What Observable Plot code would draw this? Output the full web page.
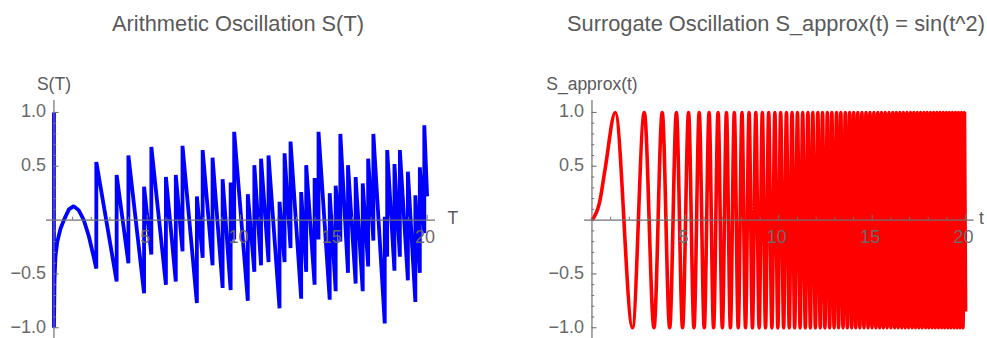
<!DOCTYPE html>
<html>
<head>
<meta charset="utf-8">
<script src="https://cdn.jsdelivr.net/npm/d3@7"></script>
<script src="https://cdn.jsdelivr.net/npm/@observablehq/plot@0.6"></script>
<style>
html, body { margin: 0; padding: 0; background: #fff; overflow: hidden; }
#wrap { position: relative; width: 987px; height: 338px; font-family: "Liberation Sans", Arial, sans-serif; }
.panel { position: absolute; top: 0; width: 493px; height: 338px; }
.title { position: absolute; top: 13px; font-size: 21.8px; line-height: 22px; color: #595959; text-align: center; white-space: nowrap; }
</style>
</head>
<body>
<div id="wrap">
  <div class="panel" id="left" style="left:0px"></div>
  <div class="panel" id="right" style="left:494px"></div>
  <div class="title" id="titleLeft" style="left:0px;width:476px"></div>
  <div class="title" id="titleRight" style="left:556px;width:440px"></div>
</div>
<script>
// ---------- text ----------
const titleLeft = "Arithmetic Oscillation S(T)";
const titleRight = "Surrogate Oscillation S_approx(t) = sin(t^2)";
const yLabelLeft = "S(T)";
const yLabelRight = "S_approx(t)";
const xLabelLeft = "T";
const xLabelRight = "t";

// ---------- ticks ----------
const xMajor = [5, 10, 15, 20];
const xMajorLabels = ["5", "10", "15", "20"];
const xMinor = [1, 2, 3, 4, 6, 7, 8, 9, 11, 12, 13, 14, 16, 17, 18, 19];
const yMajor = [-1, -0.5, 0.5, 1];
const yMajorLabels = ["\u22121.0", "\u22120.5", "0.5", "1.0"];
const yMinor = [-0.9, -0.8, -0.7, -0.6, -0.4, -0.3, -0.2, -0.1, 0.1, 0.2, 0.3, 0.4, 0.6, 0.7, 0.8, 0.9];

// ---------- left series S(T) ----------
// smooth opening part
const startT = [0, 0, 0.03, 0.08, 0.18, 0.35, 0.53, 0.8, 1.06, 1.33, 1.6, 1.87, 2.1];
const startS = [1.0, -1.0, -0.55, -0.34, -0.2, -0.08, 0.0, 0.1, 0.13, 0.09, 0.0, -0.15, -0.32];
// jump positions: value just before the jump and just after it
const jumpT = [2.27, 3.36, 3.99, 4.83, 5.22, 6.00, 6.53, 6.89, 7.66, 7.97, 8.50, 9.04, 9.47, 9.66,
  10.39, 10.74, 11.10, 11.50, 12.09, 12.36, 12.68, 13.25, 13.52, 13.97, 14.18, 14.78, 15.10, 15.35,
  15.76, 16.17, 16.55, 16.84, 17.12, 17.73, 17.86, 18.25, 18.54, 18.97, 19.37, 19.61, 19.85];
const jumpLow = [-0.45, -0.57, -0.40, -0.68, -0.32, -0.60, -0.57, -0.29, -0.77, -0.35, -0.42, -0.63, -0.65, -0.18,
  -0.75, -0.48, -0.42, -0.39, -0.82, -0.39, -0.26, -0.73, -0.48, -0.60, -0.18, -0.74, -0.66, -0.20,
  -0.49, -0.59, -0.66, -0.43, -0.19, -0.96, -0.34, -0.47, -0.34, -0.56, -0.76, -0.49, -0.12];
const jumpHigh = [0.54, 0.42, 0.60, 0.31, 0.68, 0.40, 0.42, 0.69, 0.22, 0.65, 0.58, 0.38, 0.35, 0.82,
  0.24, 0.51, 0.57, 0.60, 0.17, 0.62, 0.73, 0.26, 0.51, 0.39, 0.82, 0.25, 0.32, 0.80,
  0.51, 0.40, 0.34, 0.57, 0.80, 0.03, 0.65, 0.52, 0.65, 0.45, 0.23, 0.49, 0.88];
const endT = [20.0];
const endS = [0.22];

// ---------- right series S_approx(t): points and turning points ----------
const tApprox = [0, 0.4, 0.7, 1.25, 2.17, 2.80, 3.32, 3.76, 4.16, 4.52, 4.85, 5.17, 5.46, 5.74, 6.01, 6.27, 6.51, 6.75,
  6.98, 7.20, 7.41, 7.62, 7.83, 8.03, 8.22, 8.41, 8.59, 8.77, 8.95, 9.12, 9.29, 9.46, 9.63, 9.79,
  9.95, 10.10, 10.26, 10.41, 10.56, 10.71, 10.85, 11.00, 11.14, 11.28, 11.42, 11.56, 11.69, 11.82, 11.96, 12.09,
  12.22, 12.34, 12.47, 12.60, 12.72, 12.84, 12.96, 13.09, 13.20, 13.32, 13.44, 13.56, 13.67, 13.79, 13.90, 14.01,
  14.12, 14.23, 14.34, 14.45, 14.56, 14.67, 14.78, 14.88, 14.99, 15.09, 15.20, 15.30, 15.40, 15.50, 15.60, 15.70,
  15.80, 15.90, 16.00, 16.10, 16.20, 16.29, 16.39, 16.48, 16.58, 16.67, 16.77, 16.86, 16.95, 17.05, 17.14, 17.23,
  17.32, 17.41, 17.50, 17.59, 17.68, 17.77, 17.86, 17.94, 18.03, 18.12, 18.21, 18.29, 18.38, 18.46, 18.55, 18.63,
  18.72, 18.80, 18.88, 18.97, 19.05, 19.13, 19.21, 19.29, 19.38, 19.46, 19.54, 19.62, 19.70, 19.78, 19.86, 19.94,
  20.00];
const sApprox = [0, 0.16, 0.47, 1, -1, 1, -1, 1, -1, 1, -1, 1, -1, 1, -1, 1, -1, 1,
  -1, 1, -1, 1, -1, 1, -1, 1, -1, 1, -1, 1, -1, 1, -1, 1,
  -1, 1, -1, 1, -1, 1, -1, 1, -1, 1, -1, 1, -1, 1, -1, 1,
  -1, 1, -1, 1, -1, 1, -1, 1, -1, 1, -1, 1, -1, 1, -1, 1,
  -1, 1, -1, 1, -1, 1, -1, 1, -1, 1, -1, 1, -1, 1, -1, 1,
  -1, 1, -1, 1, -1, 1, -1, 1, -1, 1, -1, 1, -1, 1, -1, 1,
  -1, 1, -1, 1, -1, 1, -1, 1, -1, 1, -1, 1, -1, 1, -1, 1,
  -1, 1, -1, 1, -1, 1, -1, 1, -1, 1, -1, 1, -1, 1, -1, 1,
  -0.85];

// ---------- build tables ----------
const leftData = [];
startT.forEach((t, i) => leftData.push({t, s: startS[i]}));
jumpT.forEach((t, i) => { leftData.push({t, s: jumpLow[i]}); leftData.push({t, s: jumpHigh[i]}); });
endT.forEach((t, i) => leftData.push({t, s: endS[i]}));
const rightData = tApprox.map((t, i) => ({t, s: sApprox[i]}));

const xDomain = [-0.4, 20.45];
const yDomain = [-1.1, 1.111];
const axisColor = "#707070";
const labelColor = "#6a6a6a";
const font = "'Liberation Sans', Arial, sans-serif";

function panel({data, color, strokeWidth, curve, yLabel, xLabel, xLabelDx, marginLeft, marginRight}) {
  const xMajT = xMajor.map((v, i) => ({v, label: xMajorLabels[i]}));
  const yMajT = yMajor.map((v, i) => ({v, label: yMajorLabels[i]}));
  return Plot.plot({
    width: 493,
    height: 338,
    marginTop: 100,
    marginBottom: 0,
    marginLeft,
    marginRight,
    x: {domain: xDomain, axis: null},
    y: {domain: yDomain, axis: null},
    style: {fontFamily: font, background: "transparent", overflow: "visible"},
    marks: [
      Plot.line(data, {x: "t", y: "s", stroke: color, strokeWidth, curve,
        strokeLinejoin: "miter", strokeLinecap: "butt"}),
      Plot.ruleY([0], {stroke: axisColor, strokeWidth: 1.2}),
      Plot.ruleX([0], {stroke: axisColor, strokeWidth: 1.2}),
      Plot.ruleX(xMajor, {x: d => d, y1: () => 0, y2: () => 0.046, stroke: axisColor, strokeWidth: 1.1}),
      Plot.ruleX(xMinor, {x: d => d, y1: () => 0, y2: () => 0.026, stroke: axisColor, strokeWidth: 1}),
      Plot.ruleY(yMajor, {y: d => d, x1: () => 0, x2: () => 0.27, stroke: axisColor, strokeWidth: 1.1}),
      Plot.ruleY(yMinor, {y: d => d, x1: () => 0, x2: () => 0.15, stroke: axisColor, strokeWidth: 1}),
      Plot.text(xMajT, {x: "v", y: () => 0, text: "label", dy: 17, dx: -2, fontSize: 18, fill: labelColor}),
      Plot.text(yMajT, {x: () => 0, y: "v", text: "label", dx: -8, dy: -1, textAnchor: "end", fontSize: 18, fill: labelColor}),
      Plot.text([yLabel], {x: () => 0, frameAnchor: "top", text: d => d, dy: -23, fontSize: 17.5, fill: "#5a5a5a"}),
      Plot.text([xLabel], {x: () => xDomain[1], y: () => 0, text: d => d, dx: xLabelDx, dy: -2, textAnchor: "start", fontSize: 17.5, fill: "#5a5a5a"})
    ]
  });
}

document.getElementById("titleLeft").textContent = titleLeft;
document.getElementById("titleRight").textContent = titleRight;

document.getElementById("left").appendChild(panel({
  data: leftData, color: "#0000ff", strokeWidth: 3.8, curve: "linear",
  yLabel: yLabelLeft, xLabel: xLabelLeft, xLabelDx: 12, marginLeft: 46, marginRight: 58
}));
document.getElementById("right").appendChild(panel({
  data: rightData, color: "#ff0000", strokeWidth: 3.6, curve: "monotone-x",
  yLabel: yLabelRight, xLabel: xLabelRight, xLabelDx: 5, marginLeft: 90, marginRight: 13.5
}));
</script>
</body>
</html>
